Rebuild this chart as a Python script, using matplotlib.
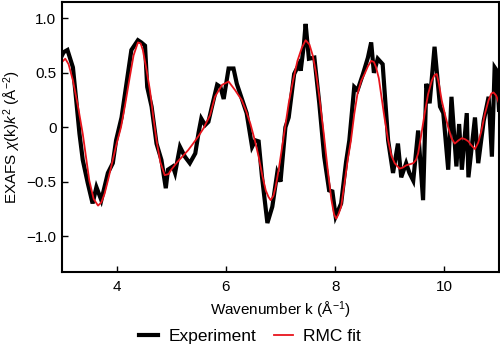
import matplotlib
matplotlib.use('Agg')
import matplotlib.pyplot as plt

plt.rcParams['font.family'] = ['Liberation Sans', 'DejaVu Sans']
plt.rcParams['mathtext.fontset'] = 'custom'
plt.rcParams['mathtext.rm'] = 'Liberation Sans'
plt.rcParams['mathtext.it'] = 'Liberation Sans:italic'

k_exp = [3.00, 3.03, 3.10, 3.20, 3.26, 3.32, 3.38, 3.47, 3.56, 3.63, 3.72, 3.84,
         3.93, 3.99, 4.09, 4.18, 4.27, 4.39, 4.45, 4.52, 4.56, 4.64, 4.73, 4.82,
         4.90, 4.94, 5.03, 5.07, 5.16, 5.25, 5.34, 5.44, 5.50, 5.55, 5.62, 5.68,
         5.74, 5.84, 5.90, 5.96, 6.05, 6.14, 6.20, 6.30, 6.38, 6.48, 6.54, 6.60,
         6.66, 6.76, 6.85, 6.94, 7.00, 7.09, 7.15, 7.25, 7.34, 7.37, 7.43, 7.46,
         7.52, 7.62, 7.71, 7.80, 7.89, 7.95, 8.01, 8.11, 8.20, 8.26, 8.35, 8.41,
         8.51, 8.60, 8.66, 8.71, 8.78, 8.87, 8.97, 9.06, 9.15, 9.21, 9.30, 9.36,
         9.43, 9.52, 9.61, 9.67, 9.73, 9.82, 9.92, 9.98, 10.07, 10.13, 10.22,
         10.27, 10.32, 10.41, 10.44, 10.56, 10.62, 10.72, 10.81, 10.87, 10.92,
         10.96, 11.00]
chi_exp = [0.66, 0.69, 0.71, 0.55, 0.25, -0.06, -0.30, -0.51, -0.70, -0.55, -0.67,
           -0.42, -0.33, -0.12, 0.09, 0.40, 0.71, 0.80, 0.78, 0.75, 0.37, 0.19,
           -0.15, -0.30, -0.56, -0.39, -0.36, -0.42, -0.18, -0.27, -0.33, -0.24,
           -0.05, 0.08, 0.02, 0.05, 0.18, 0.39, 0.37, 0.26, 0.54, 0.54, 0.40, 0.25,
           0.13, -0.18, -0.12, -0.13, -0.45, -0.88, -0.73, -0.42, -0.50, 0.00,
           0.09, 0.49, 0.58, 0.52, 0.77, 0.95, 0.63, 0.64, 0.22, -0.27, -0.58,
           -0.59, -0.82, -0.70, -0.32, -0.12, 0.37, 0.34, 0.49, 0.64, 0.78, 0.50,
           0.63, 0.58, -0.12, -0.42, -0.15, -0.46, -0.33, -0.42, -0.49, -0.03,
           -0.67, 0.40, 0.22, 0.74, 0.19, 0.13, -0.39, 0.28, -0.36, 0.03, -0.39,
           0.13, -0.46, 0.09, -0.33, 0.06, 0.28, -0.27, 0.55, 0.52, 0.16]

# RMC fit
k_fit = [3.00, 3.06, 3.12, 3.20, 3.29, 3.38, 3.50, 3.58, 3.66, 3.72, 3.78, 3.85,
         3.93, 4.00, 4.08, 4.16, 4.24, 4.31, 4.39, 4.44, 4.48, 4.55, 4.61, 4.67,
         4.73, 4.80, 4.88, 4.95, 5.00, 5.11, 5.22, 5.31, 5.40, 5.50, 5.59, 5.65,
         5.71, 5.80, 5.93, 6.05, 6.17, 6.29, 6.37, 6.45, 6.53, 6.60, 6.67, 6.73,
         6.78, 6.82, 6.87, 6.91, 6.97, 7.03, 7.09, 7.15, 7.23, 7.31, 7.39, 7.46,
         7.53, 7.59, 7.65, 7.71, 7.79, 7.86, 7.93, 7.98, 8.02, 8.06, 8.11, 8.17,
         8.23, 8.29, 8.35, 8.41, 8.48, 8.54, 8.60, 8.66, 8.71, 8.75, 8.80, 8.84,
         8.90, 8.97, 9.03, 9.09, 9.18, 9.24, 9.30, 9.37, 9.43, 9.48, 9.52, 9.58,
         9.64, 9.70, 9.77, 9.82, 9.86, 9.90, 9.95, 10.01, 10.07, 10.13, 10.19,
         10.26, 10.32, 10.38, 10.44, 10.50, 10.56, 10.62, 10.68, 10.74, 10.81,
         10.86, 10.90, 10.95, 11.00]
chi_fit = [0.60, 0.63, 0.58, 0.43, 0.20, -0.06, -0.49, -0.66, -0.72, -0.69, -0.61,
           -0.47, -0.30, -0.15, 0.00, 0.22, 0.46, 0.66, 0.78, 0.77, 0.71, 0.52,
           0.34, 0.10, -0.12, -0.32, -0.44, -0.43, -0.39, -0.32, -0.26, -0.21,
           -0.15, -0.08, -0.01, 0.05, 0.11, 0.28, 0.39, 0.42, 0.34, 0.25, 0.15,
           0.03, -0.12, -0.27, -0.45, -0.58, -0.64, -0.67, -0.63, -0.55, -0.38,
           -0.18, 0.02, 0.22, 0.43, 0.61, 0.73, 0.80, 0.76, 0.66, 0.50, 0.28,
           -0.05, -0.37, -0.66, -0.80, -0.84, -0.80, -0.73, -0.52, -0.30, -0.12,
           0.12, 0.31, 0.43, 0.49, 0.56, 0.61, 0.60, 0.55, 0.45, 0.31, 0.10,
           -0.12, -0.26, -0.33, -0.38, -0.37, -0.35, -0.34, -0.33, -0.30, -0.24,
           -0.06, 0.13, 0.30, 0.43, 0.48, 0.49, 0.40, 0.25, 0.12, 0.00, -0.10,
           -0.15, -0.12, -0.10, -0.11, -0.13, -0.17, -0.20, -0.14, -0.03, 0.12,
           0.25, 0.31, 0.32, 0.29, 0.22]

x_ticks = [4, 6, 8, 10]
y_ticks = [-1.0, -0.5, 0.0, 0.5, 1.0]
y_tick_labels = ['\u22121.0', '\u22120.5', '0', '0.5', '1.0']

fig = plt.figure(figsize=(5, 3.56), dpi=100)
ax = fig.add_axes([0.124, 0.236, 0.874, 0.758])

ax.plot(k_exp, chi_exp, color='black', linewidth=3.0, solid_joinstyle='miter',
        label='Experiment')
ax.plot(k_fit, chi_fit, color='#e8141c', linewidth=1.3, label='RMC fit')

ax.set_xlim(3, 11)
ax.set_ylim(-1.33, 1.15)
ax.set_xticks(x_ticks)
ax.set_yticks(y_ticks, y_tick_labels)
ax.tick_params(direction='in', length=4, width=1, labelsize=11)
ax.tick_params(axis='y', pad=4)
ax.tick_params(axis='x', pad=6)
for s in ax.spines.values():
    s.set_linewidth(1.5)

ax.set_xlabel('Wavenumber k (Å$^{-1}$)', fontsize=11, labelpad=4)
ax.set_ylabel('EXAFS $\\chi$(k)$k^2$ (Å$^{-2}$)', fontsize=11)
ax.yaxis.set_label_coords(-0.089, 0.5)

fig.legend(loc='lower center', bbox_to_anchor=(0.5, -0.01), ncol=2, frameon=False,
           fontsize=12.5, handlelength=1.1, columnspacing=1.0, handletextpad=0.6)

fig.savefig('out.png', dpi=100)
